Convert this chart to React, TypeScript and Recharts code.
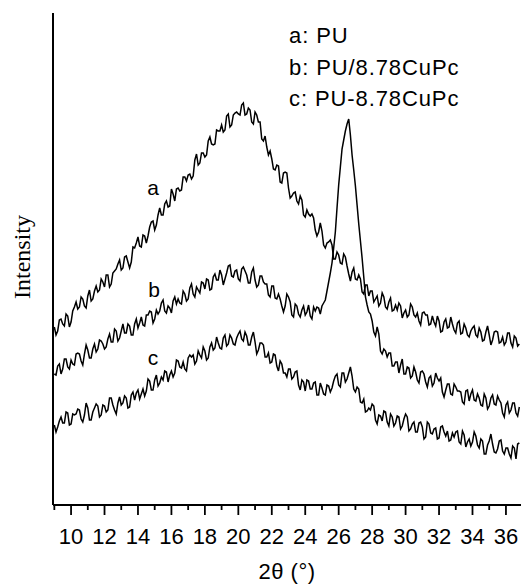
import React from 'react';
import { LineChart, Line, XAxis, YAxis, Label } from 'recharts';

// 2θ scan grid (°)
const twoTheta = [
  9.0, 9.1, 9.2, 9.3, 9.4, 9.5, 9.6, 9.7, 9.8, 9.9,
  10.0, 10.1, 10.2, 10.3, 10.4, 10.5, 10.6, 10.7, 10.8, 10.9,
  11.0, 11.1, 11.2, 11.3, 11.4, 11.5, 11.6, 11.7, 11.8, 11.9,
  12.0, 12.1, 12.2, 12.3, 12.4, 12.5, 12.6, 12.7, 12.8, 12.9,
  13.0, 13.1, 13.2, 13.3, 13.4, 13.5, 13.6, 13.7, 13.8, 13.9,
  14.0, 14.1, 14.2, 14.3, 14.4, 14.5, 14.6, 14.7, 14.8, 14.9,
  15.0, 15.1, 15.2, 15.3, 15.4, 15.5, 15.6, 15.7, 15.8, 15.9,
  16.0, 16.1, 16.2, 16.3, 16.4, 16.5, 16.6, 16.7, 16.8, 16.9,
  17.0, 17.1, 17.2, 17.3, 17.4, 17.5, 17.6, 17.7, 17.8, 17.9,
  18.0, 18.1, 18.2, 18.3, 18.4, 18.5, 18.6, 18.7, 18.8, 18.9,
  19.0, 19.1, 19.2, 19.3, 19.4, 19.5, 19.6, 19.7, 19.8, 19.9,
  20.0, 20.1, 20.2, 20.3, 20.4, 20.5, 20.6, 20.7, 20.8, 20.9,
  21.0, 21.1, 21.2, 21.3, 21.4, 21.5, 21.6, 21.7, 21.8, 21.9,
  22.0, 22.1, 22.2, 22.3, 22.4, 22.5, 22.6, 22.7, 22.8, 22.9,
  23.0, 23.1, 23.2, 23.3, 23.4, 23.5, 23.6, 23.7, 23.8, 23.9,
  24.0, 24.1, 24.2, 24.3, 24.4, 24.5, 24.6, 24.7, 24.8, 24.9,
  25.0, 25.1, 25.2, 25.3, 25.4, 25.5, 25.6, 25.7, 25.8, 25.9,
  26.0, 26.1, 26.2, 26.3, 26.4, 26.5, 26.6, 26.7, 26.8, 26.9,
  27.0, 27.1, 27.2, 27.3, 27.4, 27.5, 27.6, 27.7, 27.8, 27.9,
  28.0, 28.1, 28.2, 28.3, 28.4, 28.5, 28.6, 28.7, 28.8, 28.9,
  29.0, 29.1, 29.2, 29.3, 29.4, 29.5, 29.6, 29.7, 29.8, 29.9,
  30.0, 30.1, 30.2, 30.3, 30.4, 30.5, 30.6, 30.7, 30.8, 30.9,
  31.0, 31.1, 31.2, 31.3, 31.4, 31.5, 31.6, 31.7, 31.8, 31.9,
  32.0, 32.1, 32.2, 32.3, 32.4, 32.5, 32.6, 32.7, 32.8, 32.9,
  33.0, 33.1, 33.2, 33.3, 33.4, 33.5, 33.6, 33.7, 33.8, 33.9,
  34.0, 34.1, 34.2, 34.3, 34.4, 34.5, 34.6, 34.7, 34.8, 34.9,
  35.0, 35.1, 35.2, 35.3, 35.4, 35.5, 35.6, 35.7, 35.8, 35.9,
  36.0, 36.1, 36.2, 36.3, 36.4, 36.5, 36.6, 36.7, 36.8,
];

// a: PU
const intensityPU = [
  178, 170, 174, 185, 186, 181, 179, 191, 189, 178,
  183, 194, 198, 203, 196, 198, 208, 206, 199, 197,
  209, 215, 204, 206, 214, 219, 213, 215, 226, 223,
  218, 230, 230, 218, 221, 232, 234, 236, 241, 245,
  235, 237, 248, 249, 243, 237, 243, 258, 257, 262,
  268, 259, 258, 270, 269, 262, 269, 278, 283, 284,
  275, 280, 290, 297, 290, 290, 301, 304, 298, 299,
  316, 311, 304, 316, 317, 314, 315, 328, 328, 324,
  330, 331, 326, 329, 345, 351, 340, 342, 352, 352,
  348, 350, 364, 368, 361, 360, 361, 375, 374, 374,
  380, 373, 375, 389, 391, 378, 380, 390, 392, 393,
  391, 390, 400, 402, 390, 391, 397, 395, 383, 381,
  393, 390, 383, 383, 366, 364, 369, 358, 350, 354,
  346, 336, 335, 340, 339, 323, 322, 332, 333, 332,
  317, 307, 309, 312, 313, 304, 301, 309, 305, 290,
  288, 295, 291, 289, 291, 287, 275, 269, 273, 282,
  274, 260, 257, 262, 263, 265, 260, 246, 246, 253,
  250, 242, 241, 251, 248, 239, 231, 224, 233, 237,
  226, 225, 230, 226, 213, 211, 220, 220, 209, 214,
  214, 203, 206, 209, 199, 202, 212, 208, 198, 196,
  203, 207, 194, 195, 200, 195, 202, 199, 187, 192,
  195, 188, 190, 201, 198, 190, 188, 192, 184, 180,
  192, 193, 190, 190, 180, 181, 189, 183, 179, 189,
  184, 173, 174, 183, 186, 177, 178, 188, 181, 175,
  172, 182, 184, 171, 172, 181, 177, 170, 168, 174,
  177, 179, 170, 168, 177, 173, 164, 165, 173, 179,
  170, 160, 165, 173, 174, 173, 162, 163, 168, 160,
  163, 172, 172, 162, 158, 169, 167, 159, 161,
];

// b: PU/8.78CuPc
const intensityBlend = [
  131, 130, 139, 141, 131, 136, 146, 146, 138, 136,
  145, 141, 140, 151, 152, 151, 144, 140, 151, 160,
  155, 147, 147, 156, 161, 153, 156, 165, 164, 161,
  156, 158, 166, 171, 163, 163, 176, 174, 164, 167,
  174, 181, 172, 172, 181, 179, 170, 170, 181, 186,
  177, 182, 188, 180, 179, 190, 190, 194, 193, 182,
  186, 195, 191, 194, 202, 205, 194, 192, 199, 197,
  192, 204, 208, 201, 206, 202, 201, 214, 211, 204,
  206, 217, 221, 211, 208, 218, 215, 212, 223, 222,
  216, 226, 225, 215, 216, 228, 231, 225, 225, 235,
  230, 220, 226, 232, 239, 240, 229, 228, 234, 235,
  226, 224, 236, 238, 234, 230, 222, 222, 233, 237,
  225, 218, 220, 229, 229, 223, 221, 221, 210, 208,
  219, 219, 207, 206, 211, 206, 199, 193, 199, 211,
  208, 203, 190, 188, 201, 199, 191, 188, 195, 199,
  190, 193, 200, 189, 186, 198, 194, 198, 197, 191,
  199, 202, 205, 214, 223, 232, 242, 257, 273, 297,
  320, 338, 356, 365, 374, 381, 386, 370, 350, 335,
  319, 300, 281, 264, 247, 228, 208, 200, 193, 191,
  184, 173, 169, 178, 171, 154, 151, 156, 154, 148,
  152, 152, 139, 139, 143, 143, 132, 140, 146, 131,
  131, 138, 137, 127, 129, 138, 133, 125, 122, 133,
  134, 131, 123, 118, 127, 129, 119, 122, 132, 127,
  124, 127, 113, 108, 115, 121, 121, 111, 110, 121,
  118, 114, 114, 113, 103, 101, 114, 115, 104, 111,
  115, 105, 104, 111, 107, 100, 99, 111, 107, 96,
  99, 107, 110, 101, 100, 109, 105, 102, 92, 88,
  100, 103, 92, 95, 102, 102, 92, 89, 98,
];

// c: PU-8.78CuPc
const intensityGrafted = [
  80, 73, 78, 84, 88, 82, 82, 93, 92, 80,
  81, 91, 90, 91, 96, 95, 86, 83, 90, 102,
  97, 85, 85, 93, 97, 101, 99, 88, 90, 100,
  99, 93, 95, 107, 107, 100, 95, 91, 102, 108,
  100, 102, 109, 107, 97, 98, 110, 113, 105, 112,
  115, 106, 111, 116, 109, 114, 126, 124, 115, 115,
  125, 130, 119, 122, 128, 125, 134, 133, 123, 130,
  134, 128, 132, 145, 144, 138, 137, 143, 136, 134,
  147, 150, 148, 150, 141, 144, 154, 150, 147, 158,
  154, 145, 147, 158, 162, 155, 157, 168, 162, 157,
  156, 167, 170, 159, 161, 170, 167, 161, 160, 167,
  171, 174, 166, 164, 173, 169, 160, 160, 168, 173,
  163, 151, 155, 162, 162, 160, 148, 148, 152, 142,
  143, 151, 150, 139, 134, 144, 141, 132, 132, 128,
  136, 136, 126, 128, 133, 134, 120, 115, 125, 123,
  114, 125, 124, 116, 116, 122, 123, 110, 110, 122,
  117, 111, 110, 120, 119, 113, 117, 124, 129, 131,
  120, 118, 132, 132, 123, 126, 132, 138, 129, 116,
  113, 118, 116, 103, 102, 106, 93, 94, 97, 95,
  101, 99, 85, 81, 90, 89, 84, 94, 93, 83,
  79, 91, 88, 79, 82, 89, 88, 76, 79, 86,
  91, 88, 74, 76, 81, 83, 73, 73, 82, 83,
  78, 66, 68, 83, 81, 72, 71, 76, 77, 66,
  67, 78, 79, 73, 69, 74, 64, 65, 72, 68,
  73, 74, 63, 61, 74, 70, 58, 63, 66, 59,
  63, 73, 69, 60, 57, 66, 64, 51, 51, 60,
  64, 71, 61, 53, 52, 56, 64, 65, 54, 51,
  57, 57, 51, 47, 59, 57, 46, 61, 62,
];

const angleTicks = [
  9, 10, 11, 12, 13, 14, 15, 16, 17, 18, 19, 20, 21, 22,
  23, 24, 25, 26, 27, 28, 29, 30, 31, 32, 33, 34, 35, 36,
];

const legendLines = ['a: PU', 'b: PU/8.78CuPc', 'c: PU-8.78CuPc'];

const data = twoTheta.map((t, i) => ({
  t,
  a: intensityPU[i],
  b: intensityBlend[i],
  c: intensityGrafted[i],
}));

const ink = '#000';
const sans = '"Liberation Sans", Arial, sans-serif';

function AngleTick({ x, y, payload }: any) {
  const v = payload.value;
  const major = v % 2 === 0;
  return (
    <g>
      <line x1={x} x2={x} y1={y} y2={y + (major ? 10 : 5)} stroke={ink} strokeWidth={1.8} />
      {major && (
        <text x={x} y={y + 39} textAnchor="middle" fontSize={22} fontFamily={sans} fill={ink}>
          {v}
        </text>
      )}
    </g>
  );
}

export default function App() {
  return (
    <div style={{ position: 'absolute', left: 0, top: 0, width: 521, height: 585, background: '#fff', overflow: 'hidden' }}>
      <LineChart width={521} height={585} data={data} margin={{ top: 13, right: 0, bottom: 0, left: 0 }}>
        <XAxis
          dataKey="t"
          type="number"
          domain={[8.92, 36.9]}
          ticks={angleTicks}
          interval={0}
          tick={<AngleTick />}
          tickLine={false}
          tickSize={0}
          tickMargin={0}
          height={80}
          axisLine={{ stroke: ink, strokeWidth: 2 }}
          allowDataOverflow
        >
          <Label
            value="2θ (°)"
            position="insideBottom"
            offset={6}
            style={{ fontSize: 22, fontFamily: sans, fill: ink, letterSpacing: 0.5 }}
          />
        </XAxis>
        <XAxis
          xAxisId="top"
          orientation="top"
          dataKey="t"
          type="number"
          domain={[8.92, 36.9]}
          height={0}
          tick={false}
          tickLine={false}
          axisLine={{ stroke: ink, strokeWidth: 2 }}
          allowDataOverflow
        />
        <YAxis
          type="number"
          domain={[0, 492]}
          width={53}
          tick={false}
          tickLine={false}
          axisLine={{ stroke: ink, strokeWidth: 2 }}
        />
        <Line type="linear" dataKey="a" stroke={ink} strokeWidth={1.5} dot={false} isAnimationActive={false} />
        <Line type="linear" dataKey="b" stroke={ink} strokeWidth={1.5} dot={false} isAnimationActive={false} />
        <Line type="linear" dataKey="c" stroke={ink} strokeWidth={1.5} dot={false} isAnimationActive={false} />
      </LineChart>
      <svg width={521} height={585} style={{ position: 'absolute', left: 0, top: 0, pointerEvents: 'none' }}>
        <text
          x={30}
          y={257}
          transform="rotate(-90 30 257)"
          textAnchor="middle"
          fontSize={24}
          fontFamily='"Liberation Serif", "Times New Roman", serif'
          fill={ink}
        >
          Intensity
        </text>
        {legendLines.map((s, i) => (
          <text key={s} x={289} y={43 + i * 31.5} fontSize={22} fontFamily={sans} letterSpacing={0.9} fill={ink}>
            {s}
          </text>
        ))}
        <text x={153} y={195} textAnchor="middle" fontSize={21} fontFamily={sans} fill={ink}>a</text>
        <text x={154} y={297} textAnchor="middle" fontSize={21} fontFamily={sans} fill={ink}>b</text>
        <text x={153} y={365} textAnchor="middle" fontSize={21} fontFamily={sans} fill={ink}>c</text>
      </svg>
    </div>
  );
}
